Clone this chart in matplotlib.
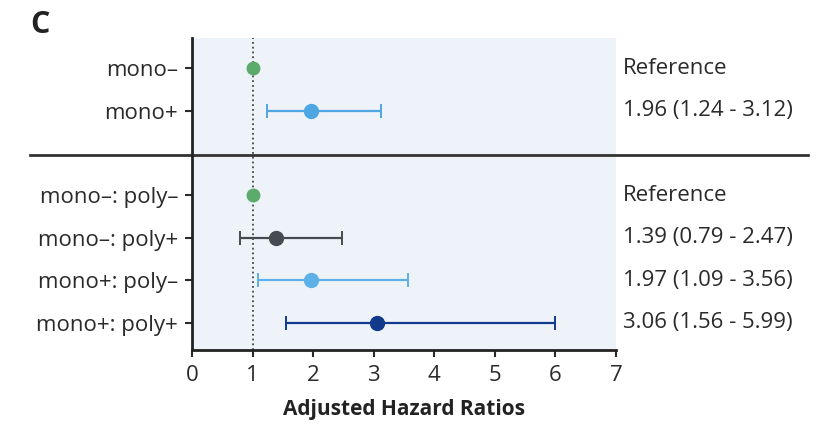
import matplotlib.pyplot as plt
from matplotlib.lines import Line2D
from matplotlib.transforms import blended_transform_factory

plt.rcParams['font.family'] = ['Open Sans', 'DejaVu Sans']

labels = ['mono–', 'mono+', 'mono–: poly–', 'mono–: poly+', 'mono+: poly–', 'mono+: poly+']
rows = [0, 1, 3, 4, 5, 6]
hr = [1.0, 1.96, 1.0, 1.39, 1.97, 3.06]
lo = [None, 1.24, None, 0.79, 1.09, 1.56]
hi = [None, 3.12, None, 2.47, 3.56, 5.99]
right_text = ['Reference', '1.96 (1.24 - 3.12)', 'Reference',
              '1.39 (0.79 - 2.47)', '1.97 (1.09 - 3.56)', '3.06 (1.56 - 5.99)']
colors = ['#5bab6b', '#4ea6e2', '#5bab6b', '#454b52', '#5eb1e8', '#113a8c']

fs = 16

fig = plt.figure(figsize=(8.26, 4.24), dpi=100)
ax = fig.add_axes([192/826, 1 - 350/424, 424/826, 312/424])
ax.set_facecolor('#eef3fa')

ax.axvline(1, color='#444444', linestyle=':', linewidth=1.3, zorder=1)

for y, h, l, u, c in zip(rows, hr, lo, hi, colors):
    if l is not None:
        ax.errorbar(h, y, xerr=[[h - l], [u - h]], fmt='o', color=c,
                    ecolor=c, elinewidth=1.6, capsize=5, capthick=1.4,
                    markersize=10, zorder=3)
    else:
        ax.plot(h, y, 'o', color=c, markersize=9, zorder=3)

ax.set_xlim(0, 7)
ax.set_ylim(6.64, -0.71)
ax.set_xticks(range(8))
ax.set_yticks(rows)
ax.set_yticklabels(labels)
ax.tick_params(axis='both', labelsize=fs, colors='#2a2a2a', width=1.5, length=5)
ax.tick_params(axis='y', pad=5)
ax.tick_params(axis='x', pad=6)
for s in ['top', 'right']:
    ax.spines[s].set_visible(False)
for s in ['left', 'bottom']:
    ax.spines[s].set_linewidth(2)
    ax.spines[s].set_color('#222222')

ax.set_xlabel('Adjusted Hazard Ratios', fontsize=15, fontweight='bold',
              color='#222222', labelpad=9)

tr = blended_transform_factory(fig.transFigure, ax.transData)
for y, t in zip(rows, right_text):
    ax.text(623/826, y, t, transform=tr, fontsize=fs,
            color='#2a2a2a', va='center', ha='left')

# separator line across the figure
sep_y = 2.05
ax.add_artist(Line2D([30/826, 808/826], [sep_y, sep_y], transform=tr,
                     color='#333333', linewidth=2, clip_on=False))

fig.text(30/826, 1 - 25/424, 'C', fontsize=22, fontweight='bold', color='#222222',
         va='center', ha='left')

fig.savefig('out.png', dpi=100)
